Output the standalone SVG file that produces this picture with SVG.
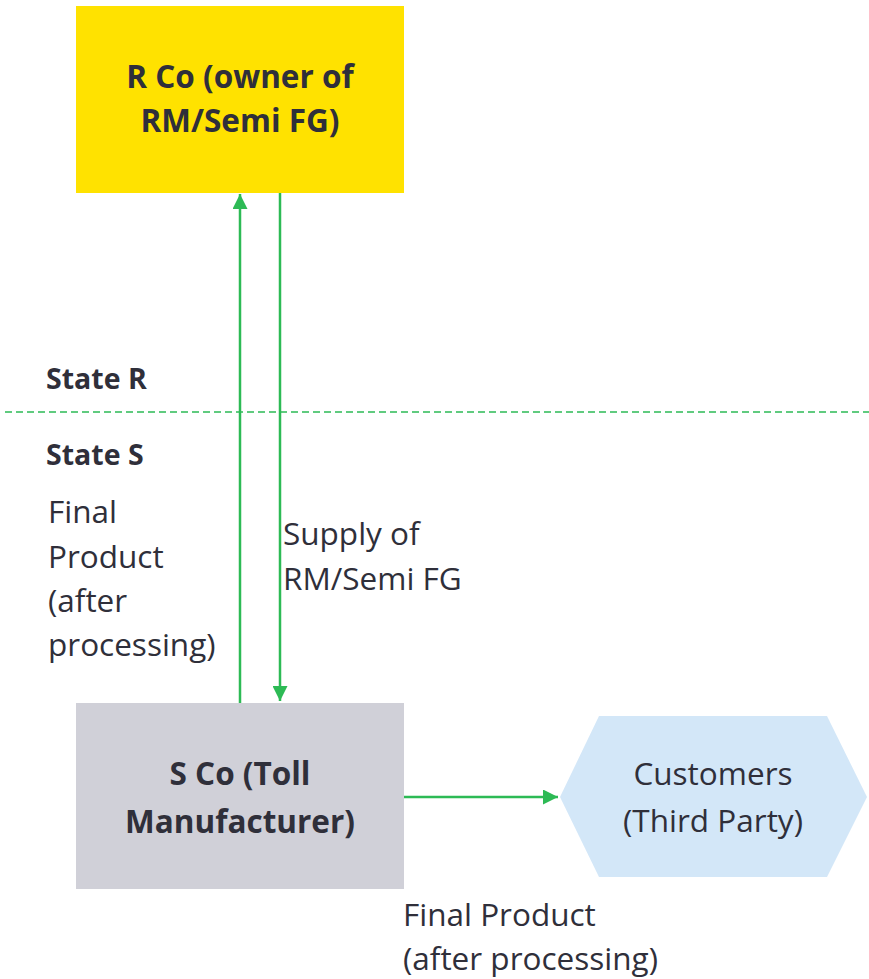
<svg xmlns="http://www.w3.org/2000/svg" width="869" height="979" viewBox="0 0 869 979">
<defs>
<style>
text{font-family:"Open Sans","Noto Sans","DejaVu Sans",sans-serif;fill:#2f2f3a;font-size:31.5px}
.b{font-weight:bold}
.c{text-anchor:middle}
.st{font-size:28.5px}
.conn{stroke:#2dba55;stroke-width:2.5;fill:none}
</style>
<marker id="ah" viewBox="0 0 10 10" refX="10" refY="5" markerWidth="6" markerHeight="6" orient="auto" markerUnits="strokeWidth">
<path d="M0,0 L10,5 L0,10 Z" fill="#2dba55"/>
</marker>
</defs>
<rect width="869" height="979" fill="#ffffff"/>
<g id="rco">
<rect x="76" y="6" width="328" height="187" fill="#ffe200"/>
<text class="b c" x="240" y="88">R Co (owner of</text>
<text class="b c" x="240" y="132">RM/Semi FG)</text>
</g>
<g id="sco">
<rect x="76" y="703" width="328" height="186" fill="#d0d0d8"/>
<text class="b c" x="240" y="785">S Co (Toll</text>
<text class="b c" x="240" y="833">Manufacturer)</text>
</g>
<g id="customers">
<polygon points="560,797 599,716 827,716 867,797 827,877 599,877" fill="#d3e7f8"/>
<text class="c" x="713" y="785">Customers</text>
<text class="c" x="713" y="832">(Third Party)</text>
</g>
<g id="states">
<line x1="5" y1="412" x2="869" y2="412" stroke="#2dba55" stroke-width="1.5" stroke-dasharray="7,4"/>
<text class="b st" x="46" y="389">State R</text>
<text class="b st" x="46" y="465">State S</text>
</g>
<g id="connectors">
<line class="conn" x1="240" y1="703" x2="240" y2="194" marker-end="url(#ah)"/>
<line class="conn" x1="280" y1="193" x2="280" y2="701" marker-end="url(#ah)"/>
<line class="conn" x1="404" y1="797" x2="558" y2="797" marker-end="url(#ah)"/>
</g>
<g id="labels">
<text x="48" y="523">Final</text>
<text x="48" y="568">Product</text>
<text x="48" y="612">(after</text>
<text x="48" y="656">processing)</text>
<text x="283" y="545">Supply of</text>
<text x="283" y="590">RM/Semi FG</text>
<text x="403" y="926">Final Product</text>
<text x="403" y="970">(after processing)</text>
</g>
</svg>
